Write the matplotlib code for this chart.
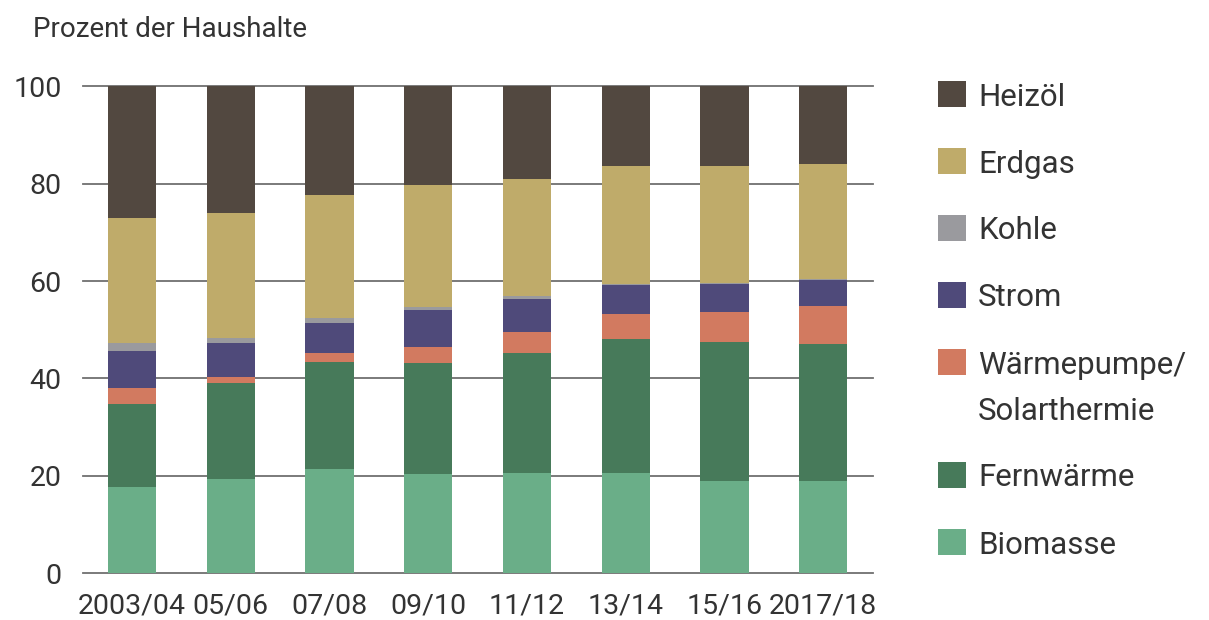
import matplotlib
matplotlib.use("Agg")
import matplotlib.pyplot as plt
from matplotlib.patches import Rectangle
import numpy as np

years = ["2003/04", "05/06", "07/08", "09/10", "11/12", "13/14", "15/16", "2017/18"]

biomasse = [17.6, 19.4, 21.3, 20.3, 20.6, 20.6, 18.9, 18.9]
fernwaerme = [17.1, 19.6, 22.1, 22.8, 24.6, 27.6, 28.6, 28.2]
waermepumpe = [3.4, 1.2, 1.8, 3.4, 4.4, 5.0, 6.1, 7.8]
strom = [7.5, 7.0, 6.1, 7.6, 6.7, 6.0, 5.9, 5.3]
kohle = [1.6, 1.2, 1.1, 0.6, 0.6, 0.2, 0.2, 0.2]
erdgas = [25.7, 25.6, 25.3, 25.1, 24.1, 24.3, 24.0, 23.6]
heizoel = [27.1, 26.0, 22.3, 20.2, 19.0, 16.3, 16.3, 16.0]

series = [
    ("Biomasse", biomasse, "#6aae88"),
    ("Fernwärme", fernwaerme, "#477a5a"),
    ("Wärmepumpe/\nSolarthermie", waermepumpe, "#d27a60"),
    ("Strom", strom, "#4f4a7a"),
    ("Kohle", kohle, "#9a9a9e"),
    ("Erdgas", erdgas, "#bfab6a"),
    ("Heizöl", heizoel, "#524840"),
]

FONT = "Roboto"
TXT = "#333333"

fig = plt.figure(figsize=(12.09, 6.2), dpi=100)
ax = fig.add_axes([0.0684, 0.0758, 0.7218 - 0.0684, 0.8605 - 0.0758])

x = np.arange(len(years))
bottom = np.zeros(len(years))
for name, vals, col in series:
    ax.bar(x, vals, width=0.49, bottom=bottom, color=col, zorder=3, linewidth=0)
    bottom += np.array(vals)

ax.set_xlim(-0.5, 7.5)
ax.set_ylim(0, 100)
ax.set_yticks([0, 20, 40, 60, 80, 100])
for yv in [0, 20, 40, 60, 80, 100]:
    ax.axhline(yv, color="#707070", lw=1.3, zorder=1, clip_on=False)

ax.set_xticks(x)
ax.set_xticklabels(years)
for s in ax.spines.values():
    s.set_visible(False)
ax.tick_params(axis="both", length=0)
ax.tick_params(axis="y", pad=15)
ax.tick_params(axis="x", pad=14)
for lab in ax.get_xticklabels() + ax.get_yticklabels():
    lab.set_fontfamily(FONT)
    lab.set_fontsize(20.5)
    lab.set_color(TXT)

fig.text(33 / 1209, 1 - 37 / 620, "Prozent der Haushalte", fontfamily=FONT,
         fontsize=20, color=TXT, va="baseline", ha="left")

# manual legend (top to bottom)
W, H = 1209, 620
legend_items = list(reversed(series))
ycur = 94
for name, vals, col in legend_items:
    fig.patches.append(Rectangle((938 / W, 1 - (ycur + 13) / H), 28 / W, 26 / H,
                                 transform=fig.transFigure, facecolor=col,
                                 edgecolor="none"))
    lines = name.split("\n")
    for i, ln in enumerate(lines):
        fig.text(978 / W, 1 - (ycur + i * 46) / H, ln, fontfamily=FONT,
                 fontsize=22.5, color=TXT, va="center_baseline", ha="left")
    ycur += 67 + 46 * (len(lines) - 1)

fig.savefig("out.png", dpi=100, facecolor="white")
